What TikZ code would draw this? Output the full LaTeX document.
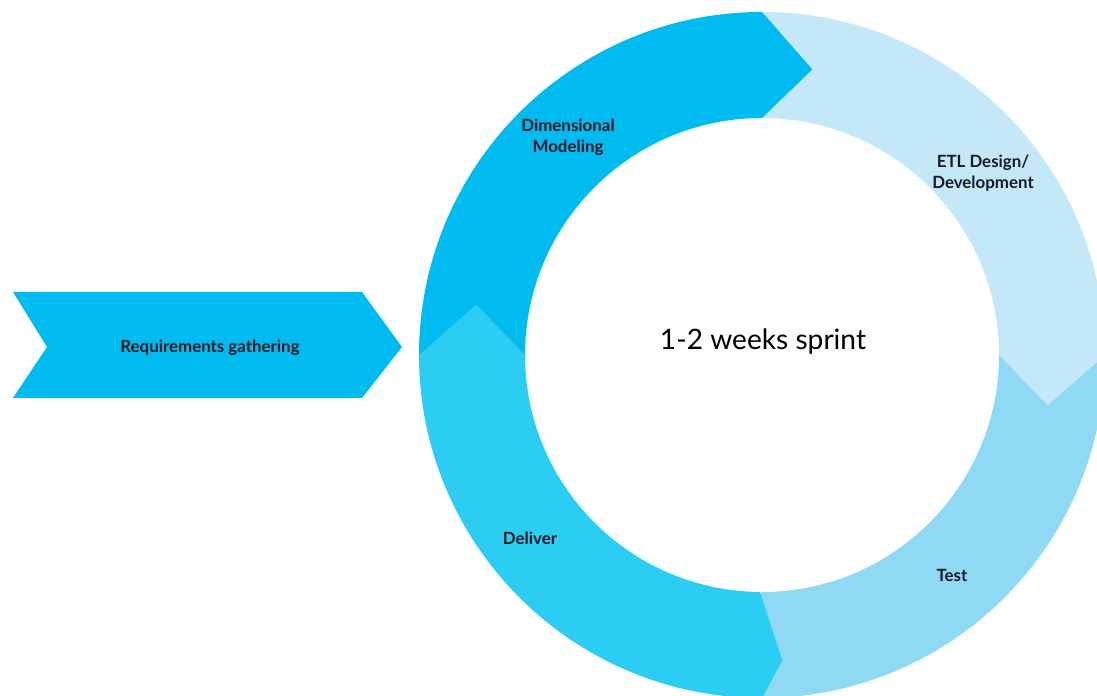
\documentclass[tikz,border=0pt]{standalone}
\usepackage{fontspec}
\setmainfont{Lato}
\usepackage{xcolor}
\usepackage{tikz}
\definecolor{modelblue}{RGB}{0,187,239}
\definecolor{etlblue}{RGB}{197,232,248}
\definecolor{testblue}{RGB}{143,217,245}
\definecolor{deliverblue}{RGB}{43,205,243}
\definecolor{textdark}{RGB}{22,26,40}
\tikzset{
  steplabel/.style={font=\fontsize{12}{15}\selectfont\bfseries,text=textdark,align=center,inner sep=1pt},
  sprintlabel/.style={font=\fontsize{20}{24}\selectfont,text=black,inner sep=1pt}
}

\begin{document}
\begin{tikzpicture}[x=0.025cm,y=0.025cm]
  \useasboundingbox (0,0) rectangle (1097,696);
  \clip (0,0) rectangle (1097,696);

  % input chevron
  \fill[modelblue] (13,404) -- (362,404) -- (402,349) -- (362,298) -- (13,298) -- (47,349) -- cycle;
  \node[steplabel] (req) at (210,348) {Requirements gathering};

  % ring, drawn so that each head lies over the next segment
  \begin{scope}[shift={(762,341)}]
    \fill[testblue] (0:237) -- (0:343) arc[start angle=0,end angle=-90,radius=343]
      -- (-100:290) -- (-90:237) arc[start angle=-90,end angle=0,radius=237] -- cycle;
    \fill[etlblue] (90:237) -- (90:343) arc[start angle=90,end angle=0,radius=343]
      -- (-10:290) -- (0:237) arc[start angle=0,end angle=90,radius=237] -- cycle;
    \fill[modelblue] (180:237) -- (180:343) arc[start angle=180,end angle=90,radius=343]
      -- (80:290) -- (90:237) arc[start angle=90,end angle=180,radius=237] -- cycle;
    \fill[deliverblue] (-90.5:237) -- (-86.2:306) -- (-90:343) arc[start angle=-90,end angle=-180,radius=343]
      -- (170:290) -- (180:237) arc[start angle=180,end angle=269.5,radius=237] -- cycle;
  \end{scope}

  \node[steplabel] (model)   at (568,559) {Dimensional\\Modeling};
  \node[steplabel] (etl)     at (983,523) {ETL Design/\\Development};
  \node[steplabel] (test)    at (952,121) {Test};
  \node[steplabel] (deliver) at (530,158) {Deliver};
  \node[sprintlabel] (sprint) at (763,354) {1-2 weeks sprint};
\end{tikzpicture}
\end{document}
